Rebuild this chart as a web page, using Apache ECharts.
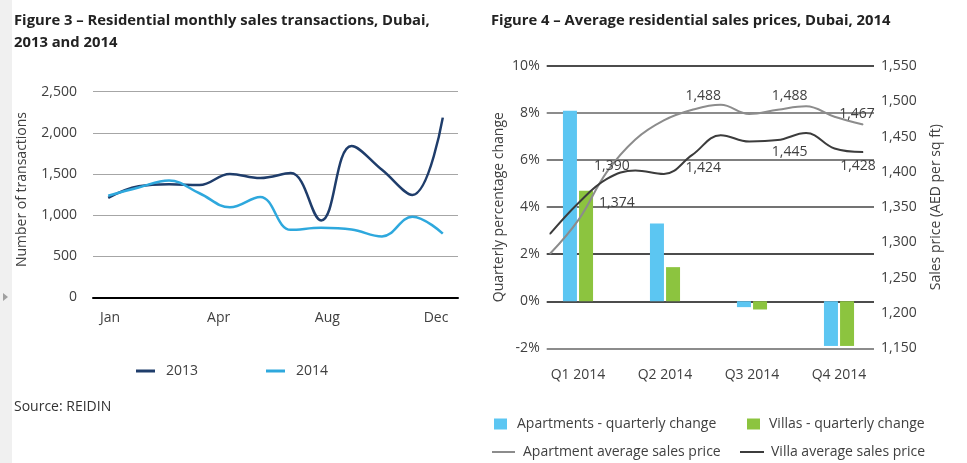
<!DOCTYPE html>
<html><head><meta charset="utf-8">
<script src="https://cdn.jsdelivr.net/npm/echarts@6/dist/echarts.min.js"></script>
<style>html,body{margin:0;padding:0;background:#fff}#c{width:967px;height:463px}</style>
</head><body><div id="c"></div>
<script>
// ---- Figure 3 data ----
const months = ['Jan','Feb','Mar','Apr','May','Jun','Jul','Aug','Sep','Oct','Nov','Dec'];
const sales2013 = [1210, 1350, 1375, 1365, 1500, 1450, 1510, 935, 1840, 1550, 1245, 2185];
const sales2014 = [1235, 1335, 1420, 1265, 1095, 1220, 820, 845, 825, 740, 980, 775];
const monthTickLabels = ['Jan', 'Apr', 'Aug', 'Dec'];

// ---- Figure 4 data ----
const quarters = ['Q1 2014', 'Q2 2014', 'Q3 2014', 'Q4 2014'];
const aptChange = [8.1, 3.3, -0.25, -1.9];
const villaChange = [4.7, 1.45, -0.35, -1.9];
const priceMonths = ['Jan','Feb','Mar','Apr','May','Jun','Jul','Aug','Sep','Oct','Nov','Dec'];
const aptPrice = [1284, 1332, 1400, 1446, 1473, 1488, 1495, 1482, 1488, 1493, 1478, 1467];
const villaPrice = [1312, 1356, 1390, 1402, 1397, 1424, 1452, 1443, 1445, 1455, 1433, 1428];
const labelIdx = [2, 5, 8, 11];
const aptLabelText = ['1,374', '1,488', '1,488', '1,467'];
const villaLabelText = ['1,390', '1,424', '1,445', '1,428'];

const FONT = 'Open Sans';
const TXT = '#404040';
const aptOffsets = [[10, 31], [11, -14], [12, -14], [-6, -11]];
const villaOffsets = [[5, -13], [11, 13], [12, 12], [-5, 14]];

function labelled(values, texts, offsets) {
  return values.map((v, i) => {
    const j = labelIdx.indexOf(i);
    if (j < 0) return v;
    return { value: v, label: { show: true, position: 'inside', offset: offsets[j], formatter: texts[j],
      fontFamily: FONT, fontSize: 14, color: TXT } };
  });
}
const fmtComma = v => Number(v).toLocaleString('en-US');
const legendText = pad => ({ fontFamily: FONT, fontSize: 14, color: TXT, padding: [0, 0, 0, pad] });

const chart = echarts.init(document.getElementById('c'), null, { renderer: 'canvas' });
chart.setOption({
  animation: false,
  backgroundColor: '#fff',
  textStyle: { fontFamily: FONT },
  graphic: [
    { type: 'rect', shape: { x: 0, y: 0, width: 12, height: 463 }, style: { fill: '#f0f0f0' }, silent: true },
    { type: 'polygon', shape: { points: [[3, 293], [8, 297], [3, 301]] }, style: { fill: '#a0a0a0' }, silent: true }
  ],
  title: [
    { text: 'Figure 3 – Residential monthly sales transactions, Dubai,\n2013 and 2014', left: 14, top: 10, padding: 0,
      textStyle: { fontFamily: FONT, fontSize: 14.8, fontWeight: 'bold', color: '#222', lineHeight: 22 } },
    { text: 'Figure 4 – Average residential sales prices, Dubai, 2014', left: 491, top: 10, padding: 0,
      textStyle: { fontFamily: FONT, fontSize: 14.8, fontWeight: 'bold', color: '#222', lineHeight: 22 } },
    { text: 'Source: REIDIN', left: 14, top: 400, padding: 0,
      textStyle: { fontFamily: FONT, fontSize: 14, fontWeight: 'normal', color: '#333' } }
  ],
  legend: [
    { data: ['2013', '2014'], left: 136, top: 364, padding: 0, itemWidth: 19, itemHeight: 3, itemGap: 68, icon: 'rect',
      textStyle: legendText(6) },
    { data: ['Apartments - quarterly change'], left: 494, top: 417, padding: 0, itemWidth: 13, itemHeight: 11, icon: 'rect',
      textStyle: legendText(5) },
    { data: ['Villas - quarterly change'], left: 747, top: 417, padding: 0, itemWidth: 13, itemHeight: 11, icon: 'rect',
      textStyle: legendText(4) },
    { data: ['Apartment average sales price'], left: 492, top: 445, padding: 0, itemWidth: 23, itemHeight: 2, icon: 'rect',
      textStyle: legendText(3) },
    { data: ['Villa average sales price'], left: 740, top: 445, padding: 0, itemWidth: 24, itemHeight: 2, icon: 'rect',
      textStyle: legendText(2) }
  ],
  grid: [
    { left: 93, width: 365, top: 91.7, height: 205.6 },     // 0: Figure 3 plot
    { left: 110, width: 326, top: 91.7, height: 205.6 },    // 1: Figure 3 month labels
    { left: 546.7, width: 327.3, top: 66, height: 282.3 },  // 2: Figure 4 axes
    { left: 534.5, width: 348, top: 66, height: 282.3 },    // 3: Figure 4 bars
    { left: 550, width: 313, top: 66, height: 282.3 }       // 4: Figure 4 lines
  ],
  xAxis: [
    { gridIndex: 0, type: 'category', data: months, boundaryGap: true,
      axisLine: { lineStyle: { color: '#000', width: 2 } }, axisTick: { show: false }, axisLabel: { show: false } },
    { gridIndex: 1, type: 'category', data: monthTickLabels, boundaryGap: false,
      axisLine: { show: false }, axisTick: { show: false },
      axisLabel: { margin: 14, fontFamily: FONT, fontSize: 14, color: TXT } },
    { gridIndex: 2, type: 'category', data: quarters, show: false },
    { gridIndex: 3, type: 'category', data: quarters,
      axisLine: { show: false }, axisTick: { show: false },
      axisLabel: { margin: 20, fontFamily: FONT, fontSize: 14, color: TXT } },
    { gridIndex: 4, type: 'category', data: priceMonths, boundaryGap: false, show: false }
  ],
  yAxis: [
    { gridIndex: 0, type: 'value', min: 0, max: 2500, interval: 500,
      name: 'Number of transactions', nameLocation: 'middle', nameGap: 64, nameRotate: 90,
      nameTextStyle: { fontFamily: FONT, fontSize: 14, color: TXT, padding: [0, 0, 0, 10] },
      axisLine: { show: false }, axisTick: { show: false },
      axisLabel: { margin: 16, fontFamily: FONT, fontSize: 14, color: TXT, formatter: fmtComma },
      splitLine: { lineStyle: { color: '#a6a6a6', width: 1.2 } } },
    { gridIndex: 1, type: 'value', min: 0, max: 1, show: false },
    { gridIndex: 2, type: 'value', min: -2, max: 10, interval: 2, position: 'left',
      name: 'Quarterly percentage change', nameLocation: 'middle', nameGap: 41, nameRotate: 90,
      nameTextStyle: { fontFamily: FONT, fontSize: 14, color: TXT },
      axisLine: { show: false }, axisTick: { show: false },
      axisLabel: { margin: 7, fontFamily: FONT, fontSize: 14, color: TXT, formatter: '{value}%' },
      splitLine: { lineStyle: { color: ['#666', '#111', '#111', '#444', '#555', '#666', '#111'], width: 1.5 } } },
    { gridIndex: 2, type: 'value', min: 1150, max: 1550, interval: 50, position: 'right',
      name: 'Sales price (AED per sq ft)', nameLocation: 'middle', nameGap: 55, nameRotate: 90,
      nameTextStyle: { fontFamily: FONT, fontSize: 14, color: TXT },
      axisLine: { show: false }, axisTick: { show: false }, splitLine: { show: false },
      axisLabel: { margin: 7, fontFamily: FONT, fontSize: 14, color: TXT, formatter: fmtComma } },
    { gridIndex: 3, type: 'value', min: -2, max: 10, interval: 2, show: false },
    { gridIndex: 4, type: 'value', min: 1150, max: 1550, interval: 50, show: false }
  ],
  series: [
    { name: '2013', type: 'line', xAxisIndex: 0, yAxisIndex: 0, data: sales2013, smooth: 0.4,
      showSymbol: false, lineStyle: { color: '#1f3d6b', width: 2.5 }, itemStyle: { color: '#1f3d6b' } },
    { name: '2014', type: 'line', xAxisIndex: 0, yAxisIndex: 0, data: sales2014, smooth: 0.4,
      showSymbol: false, lineStyle: { color: '#2ea8dd', width: 2.5 }, itemStyle: { color: '#2ea8dd' } },
    { name: 'Apartments - quarterly change', type: 'bar', xAxisIndex: 3, yAxisIndex: 4, data: aptChange,
      barWidth: 14, barGap: '15%', itemStyle: { color: '#5cc6f2' } },
    { name: 'Villas - quarterly change', type: 'bar', xAxisIndex: 3, yAxisIndex: 4, data: villaChange,
      barWidth: 14, barGap: '15%', itemStyle: { color: '#8cc43f' } },
    { name: 'Apartment average sales price', type: 'line', xAxisIndex: 4, yAxisIndex: 5,
      data: labelled(aptPrice, aptLabelText, aptOffsets), smooth: 0.4,
      symbol: 'circle', symbolSize: 1, lineStyle: { color: '#8c8c8c', width: 2 }, itemStyle: { color: '#8c8c8c' } },
    { name: 'Villa average sales price', type: 'line', xAxisIndex: 4, yAxisIndex: 5,
      data: labelled(villaPrice, villaLabelText, villaOffsets), smooth: 0.4,
      symbol: 'circle', symbolSize: 1, lineStyle: { color: '#3c3c3c', width: 2 }, itemStyle: { color: '#3c3c3c' } }
  ]
});
</script></body></html>
